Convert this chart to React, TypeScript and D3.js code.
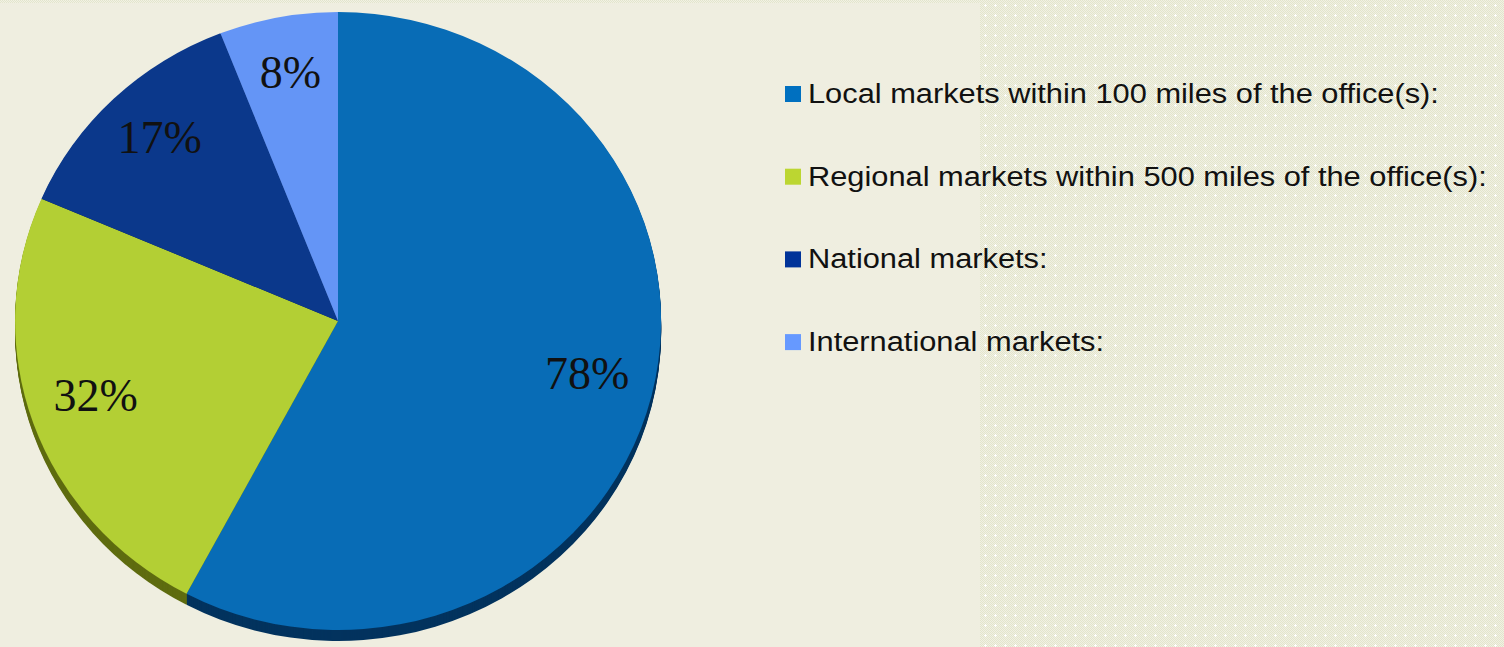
import React from "react";
import * as d3 from "d3";

const categories = [
  "Local markets within 100 miles of the office(s):",
  "Regional markets within 500 miles of the office(s):",
  "National markets:",
  "International markets:",
];
const values = [78, 32, 17, 8];
const labels = ["78%", "32%", "17%", "8%"];
// pie slice order (clockwise from 12 o'clock): local, regional, national, international
const topColors = ["#086CB6", "#B3CF34", "#0B388B", "#6495F6"];
const sideColors = ["#03335E", "#5F6C10", "#061F4E", "#34518C"];
const legendColors = ["#0070C0", "#BCD631", "#003399", "#6699FF"];

const W = 1504;
const H = 647;
const cx = 338;
const cy = 321;
const rx = 323;
const ry = 309;
const depth = 11;

export default function App() {
  const pie = d3
    .pie<number>()
    .sort(null)
    .startAngle(0)
    .endAngle(2 * Math.PI)
    .value((d) => d);
  const arcs = pie(values);
  const arcGen = d3.arc<d3.PieArcDatum<number>>().innerRadius(0).outerRadius(1);
  const labelArc = d3.arc<d3.PieArcDatum<number>>().innerRadius(0.795).outerRadius(0.795);

  const depthSteps = d3.range(depth, 0, -1);

  const legendY = d3.scaleLinear().domain([0, 1]).range([103, 185.7]);

  return (
    <svg
      width={W}
      height={H}
      style={{ position: "absolute", left: 0, top: 0 }}
    >
      <defs>
        <pattern id="checker" width="2" height="2" patternUnits="userSpaceOnUse">
          <rect width="2" height="2" fill="#F1F1E4" />
          <rect x="0" y="0" width="1" height="1" fill="#E3E5CC" />
          <rect x="1" y="1" width="1" height="1" fill="#E3E5CC" />
        </pattern>
        <pattern id="tex" width="10" height="10" patternUnits="userSpaceOnUse">
          <rect width="10" height="10" fill="url(#checker)" />
          <rect x="4" y="5" width="3" height="1" fill="#FFFFFF" />
          <rect x="5" y="4" width="1" height="3" fill="#FFFFFF" />
        </pattern>
      </defs>
      <rect width={W} height={H} fill="#EFEEE0" />
      <rect x={980} y={0} width={W - 980} height={H} fill="url(#tex)" />
      <rect x={0} y={0} width={980} height={3} fill="url(#tex)" />

      {/* side walls */}
      {depthSteps.map((dy) => (
        <g key={"d" + dy} transform={`translate(${cx},${cy + dy}) scale(${rx},${ry})`}>
          {arcs.map((a, i) => (
            <path key={i} d={arcGen(a) || ""} fill={sideColors[i]} />
          ))}
        </g>
      ))}

      {/* top face */}
      <g transform={`translate(${cx},${cy}) scale(${rx},${ry})`}>
        {arcs.map((a, i) => (
          <path key={i} d={arcGen(a) || ""} fill={topColors[i]} />
        ))}
      </g>

      {/* labels */}
      {arcs.map((a, i) => {
        const [lx, ly] = labelArc.centroid(a);
        return (
          <text
            key={"l" + i}
            x={cx + lx * rx}
            y={cy - 7 + ly * ry}
            textAnchor="middle"
            dominantBaseline="central"
            fontFamily="'Liberation Serif', 'DejaVu Serif', serif"
            fontSize={46}
            fill="#111"
          >
            {labels[i]}
          </text>
        );
      })}

      {/* legend */}
      {categories.map((c, i) => {
        const by = legendY(i);
        return (
          <g key={"g" + i}>
            <rect x={785} y={by - 17} width={16} height={16} fill={legendColors[i]} />
            <text
              transform={`translate(808,${by}) scale(1.1,1)`}
              fontFamily="'Liberation Sans', Arial, sans-serif"
              fontSize={28}
              fill="#111"
            >
              {c}
            </text>
          </g>
        );
      })}
    </svg>
  );
}
